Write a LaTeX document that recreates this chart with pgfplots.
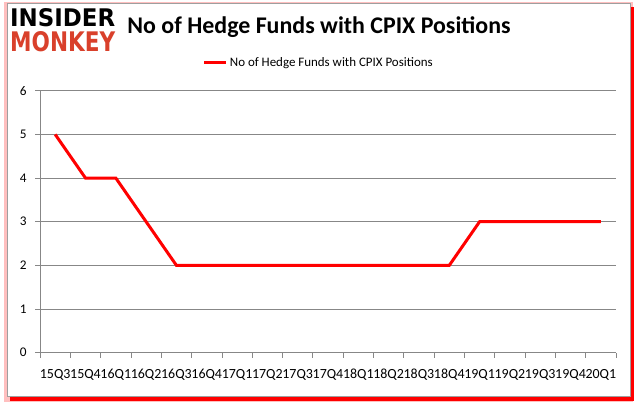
\documentclass[border=0pt]{standalone}
\usepackage{pgfplots}
\pgfplotsset{compat=1.18}
\usepackage{graphicx}
\usepackage{fontspec}
\setmainfont{Carlito}
\newfontfamily\logofont{DejaVu Sans}
\definecolor{gridgray}{HTML}{878787}
\definecolor{monkeyred}{HTML}{D9402B}
\begin{document}
\begin{tikzpicture}
\begin{scope}[x=1bp,y=1bp]
\path[use as bounding box] (0,0) rectangle (637,408);
% frame with red shadow
\fill[red!25] (4,6) rectangle (633,406);
\fill[red] (10,7) rectangle (634,401);
\draw[fill=white,draw=gridgray!80] (7,12) rectangle (630,405);
% logo
\node[anchor=south west,inner sep=0pt] at (10,381) {\resizebox{105bp}{18bp}{\logofont\bfseries INSIDER}};
\node[anchor=south west,inner sep=0pt,text=monkeyred] at (10,356) {\resizebox{105bp}{20bp}{\logofont\bfseries MONKEY}};
% title
\node[font=\fontsize{24}{27}\selectfont\bfseries] at (319,381) {No of Hedge Funds with CPIX Positions};
\end{scope}
\begin{axis}[
  at={(40bp,55.3bp)}, anchor=south west,
  scale only axis, width=576bp, height=262bp,
  xmin=-0.5, xmax=18.5, ymin=0, ymax=6,
  axis lines*=left,
  axis line style={gridgray, line width=0.8bp},
  xtick={-0.5,0.5,...,18.5}, xticklabels={},
  extra x ticks={0,1,...,18},
  extra x tick labels={15Q3,15Q4,16Q1,16Q2,16Q3,16Q4,17Q1,17Q2,17Q3,17Q4,18Q1,18Q2,18Q3,18Q4,19Q1,19Q2,19Q3,19Q4,20Q1},
  extra x tick style={major tick length=0pt, xticklabel style={yshift=-13bp, font=\fontsize{14}{16}\selectfont}},
  ytick={0,1,...,6},
  tick align=outside, major tick length=5bp,
  tick style={gridgray, line width=0.8bp},
  ymajorgrids, grid style={gridgray, line width=0.8bp},
  ticklabel style={font=\fontsize{13.3}{15}\selectfont},
  yticklabel style={xshift=-5bp},
  /pgf/number format/assume math mode=true,
  legend style={at={(0.484,1.106)}, anchor=center, draw=none, fill=none,
    font=\fontsize{13}{15}\selectfont, inner sep=0pt},
  legend image post style={xscale=1.3},
]
\addplot[red, line width=3bp] coordinates {
(0,5) (1,4) (2,4) (3,3) (4,2) (5,2) (6,2) (7,2) (8,2) (9,2) (10,2) (11,2) (12,2) (13,2) (14,3) (15,3) (16,3) (17,3) (18,3)
};
\addlegendentry{No of Hedge Funds with CPIX Positions}
\end{axis}
\end{tikzpicture}
\end{document}
